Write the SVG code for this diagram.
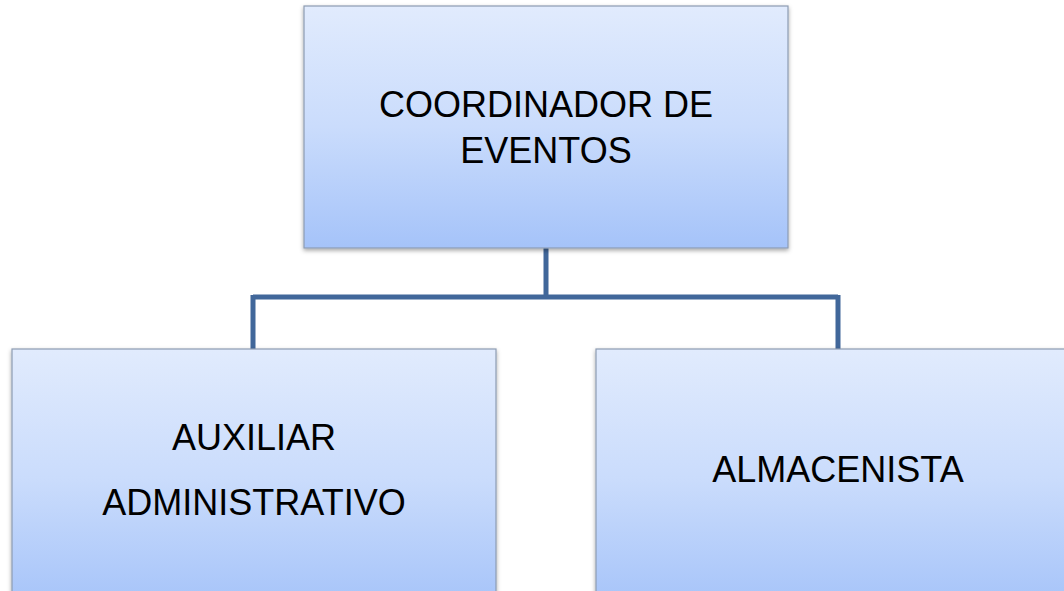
<svg xmlns="http://www.w3.org/2000/svg" width="1064" height="591" viewBox="0 0 1064 591">
<defs>
<linearGradient id="g" x1="0" y1="0" x2="0" y2="1">
<stop offset="0" stop-color="#e1ebfd"/>
<stop offset="0.5" stop-color="#cadcfc"/>
<stop offset="1" stop-color="#a5c3f9"/>
</linearGradient>
<filter id="sh" x="-5%" y="-5%" width="110%" height="115%">
<feDropShadow dx="0" dy="2" stdDeviation="2" flood-color="#000" flood-opacity="0.35"/>
</filter>
</defs>
<style>
.box{fill:url(#g);stroke:#8d9cb2;stroke-width:1.2;filter:url(#sh)}
.t{font-family:"Liberation Sans",Arial,sans-serif;font-size:36px;fill:#000;text-anchor:middle}
.c{fill:none;stroke:#41679a;stroke-width:5}
</style>
<rect width="1064" height="591" fill="#fff"/>
<g id="connectors">
<path class="c" d="M546,248 V297 M253,297 H838 M253,295 V349 M838,295 V349"/>
</g>
<g id="node-coordinador">
<rect class="box" x="304" y="6" width="484" height="242"/>
<text class="t" x="546" y="117">COORDINADOR DE</text>
<text class="t" x="546" y="163">EVENTOS</text>
</g>
<g id="node-auxiliar">
<rect class="box" x="12" y="349" width="484" height="260"/>
<text class="t" x="254" y="450">AUXILIAR</text>
<text class="t" x="254" y="515">ADMINISTRATIVO</text>
</g>
<g id="node-almacenista">
<rect class="box" x="596" y="349" width="484" height="260"/>
<text class="t" x="838" y="482">ALMACENISTA</text>
</g>
</svg>
